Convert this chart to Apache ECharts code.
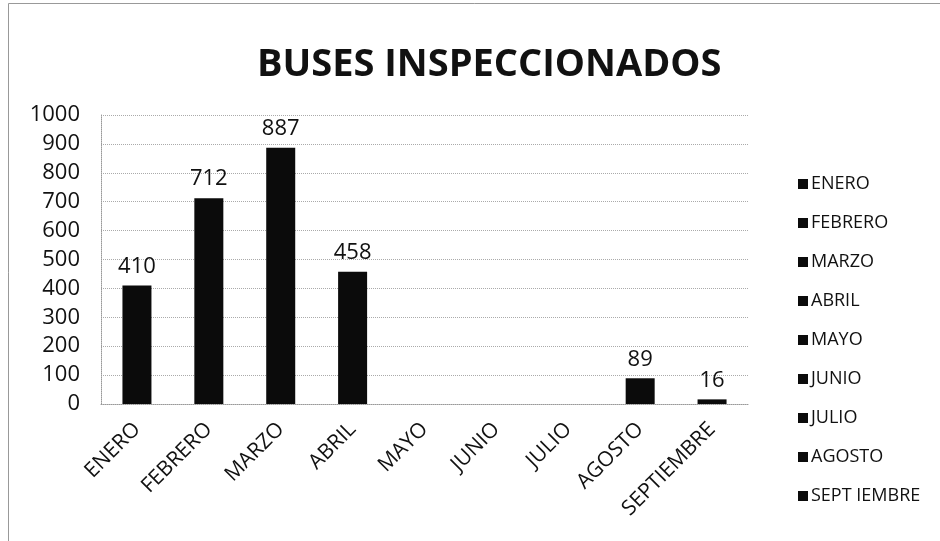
<!DOCTYPE html>
<html>
<head>
<meta charset="utf-8">
<script src="https://cdn.jsdelivr.net/npm/echarts@6/dist/echarts.min.js"></script>
<style>html,body{margin:0;padding:0;background:#fff}#c{width:940px;height:541px}</style>
</head>
<body>
<div id="c"></div>
<script>
var categories = ['ENERO','FEBRERO','MARZO','ABRIL','MAYO','JUNIO','JULIO','AGOSTO','SEPTIEMBRE'];
var legendNames = ['ENERO','FEBRERO','MARZO','ABRIL','MAYO','JUNIO','JULIO','AGOSTO','SEPT IEMBRE'];
var values = [410, 712, 887, 458, null, null, null, 89, 16];
var yTicks = [0,100,200,300,400,500,600,700,800,900,1000];

var FONT = 'Open Sans';
var series = categories.map(function(c, i){
  var d = categories.map(function(_, j){ return (j === i && values[i] != null) ? values[i] : '-'; });
  return {
    name: legendNames[i], type: 'bar', stack: 'all', data: d, barWidth: 29,
    itemStyle: {color: '#0b0b0b'},
    label: {show: true, position: 'top', color: '#111', fontFamily: FONT, fontSize: 22, distance: 8}
  };
});

var chart = echarts.init(document.getElementById('c'));
chart.setOption({
  animation: false,
  backgroundColor: '#fff',
  title: {text: 'BUSES INSPECCIONADOS', left: 252, top: 41,
    textStyle: {fontFamily: FONT, fontWeight: 'bold', fontSize: 38, color: '#111'}},
  graphic: [{type: 'rect', shape: {x: 8.5, y: 3.5, width: 960, height: 560},
    style: {fill: 'none', stroke: '#999', lineWidth: 1}}],
  legend: {orient: 'vertical', left: 793, top: 168, itemWidth: 10, itemHeight: 10, icon: 'rect',
    itemGap: 17, data: legendNames, itemStyle: {color: '#0b0b0b'},
    textStyle: {fontFamily: FONT, fontSize: 18, color: '#111', lineHeight: 22, padding: [0,0,0,-2]}},
  grid: {left: 101, right: 192, top: 115, bottom: 137},
  xAxis: {type: 'category', data: categories,
    axisLine: {lineStyle: {color: '#999', type: 'dotted'}},
    axisTick: {show: false},
    axisLabel: {rotate: 45, fontFamily: FONT, fontSize: 21, color: '#111', margin: 22, interval: 0}},
  yAxis: {type: 'value', min: 0, max: 1000, interval: 100,
    axisLine: {show: true, lineStyle: {color: '#999', type: 'dotted'}},
    axisTick: {show: false},
    splitLine: {lineStyle: {color: '#aaa', type: 'dotted'}},
    axisLabel: {fontFamily: FONT, fontSize: 22, color: '#111', margin: 21,
      formatter: function(v){ return yTicks.indexOf(v) >= 0 ? String(v) : ''; }}},
  series: series
});
</script>
</body>
</html>
